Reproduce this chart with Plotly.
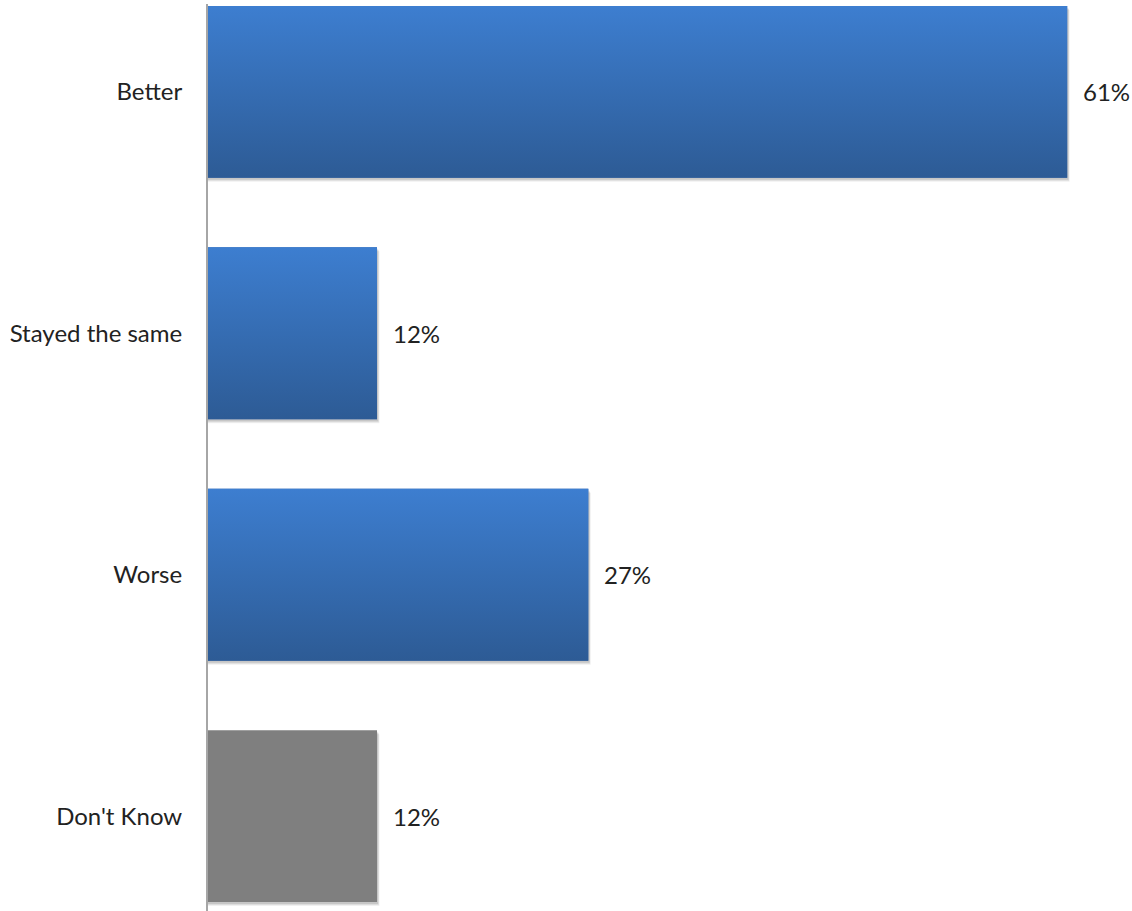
import plotly.graph_objects as go

# Survey responses
categories = ["Better", "Stayed the same", "Worse", "Don't Know"]
values = [61, 12, 27, 12]
bar_colors = ["#3566ad", "#3566ad", "#3566ad", "#7f7f7f"]
gradient_top = "#3d7ed0"
gradient_bottom = "#2d5b95"
use_gradient = [True, True, True, False]

positions = list(range(len(categories)))
bar_width = 0.712

# pixel scale helpers for the soft drop shadow
px_x = 65.6 / 924
px_y = 3.757 / 907

fig = go.Figure()

# soft shadow along the lower and right edges of each bar
for pos, val in zip(positions, values):
    for off, alpha in [(4, 0.06), (3, 0.08), (2, 0.10)]:
        dx, dy = off * px_x * 0.6, off * px_y
        top = pos - bar_width / 2
        bot = pos + bar_width / 2
        fig.add_trace(go.Scatter(
            x=[0, val, val, val + dx, val + dx, 0, 0],
            y=[bot, bot, top + dy, top + dy, bot + dy, bot + dy, bot],
            mode="lines",
            line=dict(width=0),
            fill="toself",
            fillcolor=f"rgba(0,0,0,{alpha})",
            hoverinfo="skip",
            showlegend=False,
        ))

fig.add_trace(go.Bar(
    x=values,
    y=positions,
    orientation="h",
    width=bar_width,
    marker=dict(color=bar_colors, line=dict(width=0)),
    hoverinfo="skip",
    showlegend=False,
))

# vertical gradient fill laid over the blue bars
for pos, val, grad in zip(positions, values, use_gradient):
    if not grad:
        continue
    top = pos - bar_width / 2
    bot = pos + bar_width / 2
    fig.add_trace(go.Scatter(
        x=[0, val, val, 0, 0],
        y=[top, top, bot, bot, top],
        mode="lines",
        line=dict(width=0),
        fill="toself",
        fillgradient=dict(
            type="vertical",
            start=top,
            stop=bot,
            colorscale=[[0, gradient_top], [1, gradient_bottom]],
        ),
        hoverinfo="skip",
        showlegend=False,
    ))

for pos, val in zip(positions, values):
    fig.add_annotation(
        x=val, y=pos, text=f"{val}%",
        xanchor="left", yanchor="middle",
        xshift=14, showarrow=False,
        font=dict(family="Lato", size=24, color="#222222"),
    )

fig.update_layout(
    width=1132, height=911,
    margin=dict(l=208, r=0, t=4, b=0),
    paper_bgcolor="white",
    plot_bgcolor="white",
    font=dict(family="Lato", size=24, color="#222222"),
    xaxis=dict(range=[0, 65.6], visible=False, fixedrange=True),
    yaxis=dict(
        range=[3.393, -0.364],
        tickmode="array",
        tickvals=positions,
        ticktext=categories,
        showgrid=False,
        zeroline=False,
        showline=True,
        linecolor="#a6a6a6",
        linewidth=2,
        ticks="",
        ticklabelstandoff=19,
        layer="above traces",
    ),
)

fig.write_html("out.html")
